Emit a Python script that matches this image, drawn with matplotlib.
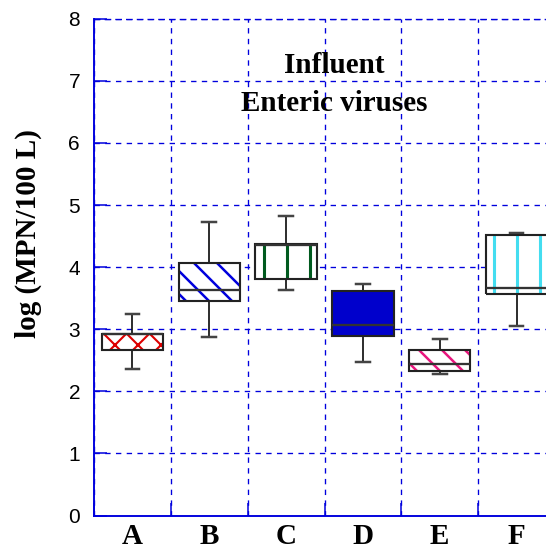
import matplotlib
matplotlib.use("Agg")
import matplotlib.pyplot as plt
from matplotlib.patches import PathPatch

# ---- data ----
categories = ["A", "B", "C", "D", "E", "F"]
whis_lo = [2.36, 2.88, 3.63, 2.48, 2.28, 3.06]
q1      = [2.67, 3.45, 3.81, 2.89, 2.33, 3.56]
median  = [2.93, 3.64, 4.35, 3.07, 2.44, 3.66]
q3      = [2.93, 4.06, 4.38, 3.62, 2.67, 4.52]
whis_hi = [3.24, 4.73, 4.82, 3.73, 2.84, 4.55]
yticks = [0, 1, 2, 3, 4, 5, 6, 7, 8]
title_lines = ["Influent", "Enteric viruses"]
ylabel = "log (MPN/100 L)"

# ---- styles ----
fill_colors  = ["white", "white", "white", "#0000CC", "white", "white"]
hatch_colors = ["#DD0000", "#0000DD", "#005A1E", "#0000CC", "#E8157D", "#44DDF0"]
hatches      = ["xx", "\\\\", "|", None, "\\\\", "|"]
hatch_lw     = [1.1, 1.3, 1.6, 1.0, 1.3, 1.6]

DPI = 138
fig = plt.figure(figsize=(546 / DPI, 550 / DPI), dpi=DPI)
ax = fig.add_axes([94 / 546, 1 - 515.5 / 550, 461 / 546, (515.5 - 18.8) / 550])

blue = "#0000DD"
serif_bold = dict(family="Liberation Serif", weight="bold", size=15.2)

positions = [i + 0.5 for i in range(len(categories))]
stats = []
for i, c in enumerate(categories):
    stats.append(dict(label=c, whislo=whis_lo[i], q1=q1[i], med=median[i],
                      q3=q3[i], whishi=whis_hi[i], fliers=[]))

bp = ax.bxp(stats, positions=positions, widths=0.8, capwidths=0.18,
            patch_artist=True, showfliers=False, manage_ticks=False,
            boxprops=dict(edgecolor="#222222", linewidth=1.1),
            medianprops=dict(color="#333333", linewidth=1.2),
            whiskerprops=dict(color="#111111", linewidth=0.9),
            capprops=dict(color="#444444", linewidth=1.3))

for i, box in enumerate(bp["boxes"]):
    box.set_zorder(3)
    box.set_facecolor("none")
    under = PathPatch(box.get_path(), transform=ax.transData,
                      facecolor=fill_colors[i], edgecolor=hatch_colors[i],
                      hatch=hatches[i], linewidth=0, zorder=2.5)
    if hasattr(under, "set_hatch_linewidth"):
        under.set_hatch_linewidth(hatch_lw[i])
    ax.add_patch(under)
for m in bp["medians"]:
    m.set_zorder(4)
for w in bp["whiskers"] + bp["caps"]:
    w.set_zorder(2)

ax.set_xlim(0, 6)
ax.set_ylim(0, 8)
ax.set_yticks(yticks)
ax.set_yticklabels([str(v) for v in yticks], family="Liberation Sans", size=10.9)
ax.set_xticks(range(0, 7))
ax.set_xticklabels([])
ax.set_xticks(positions, minor=True)
ax.set_xticklabels(categories, minor=True, **serif_bold)
ax.tick_params(axis="x", which="minor", length=0, pad=4.0)
ax.tick_params(axis="both", which="major", direction="in", length=6.6,
               width=0.8, color=blue, pad=7.3)
ax.tick_params(axis="y", which="major", pad=7.3)

ax.grid(True, which="major", color=blue, linestyle=(0, (4, 4)), linewidth=0.7)
ax.set_axisbelow(True)

for s in ["left", "bottom"]:
    ax.spines[s].set_color(blue)
    ax.spines[s].set_linewidth(1.0)
ax.spines["top"].set_color(blue)
ax.spines["top"].set_linestyle((0, (4, 4)))
ax.spines["top"].set_linewidth(0.7)
ax.spines["right"].set_visible(False)

ax.text(3.13, 7.24, title_lines[0], ha="center", va="center", zorder=5, **serif_bold)
ax.text(3.13, 6.64, title_lines[1], ha="center", va="center", zorder=5, **serif_bold)

fig.text(28 / 546, 1 - 234 / 550, ylabel, rotation=90, ha="center", va="center",
         **serif_bold)

fig.savefig("out.png", dpi=DPI)
